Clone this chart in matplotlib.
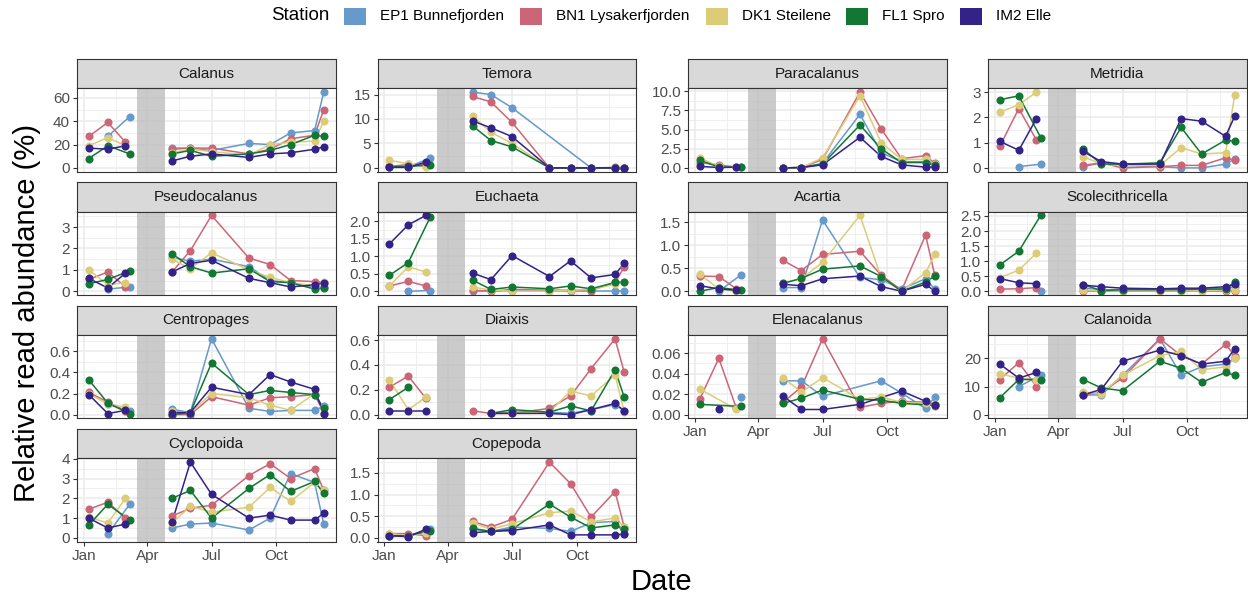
import numpy as np
import matplotlib
matplotlib.use("Agg")
import matplotlib.pyplot as plt
import matplotlib.dates as mdates
from matplotlib.patches import Rectangle
from matplotlib.ticker import FixedLocator

plt.rcParams["font.family"] = ["Liberation Sans", "DejaVu Sans"]

nan = np.nan

stations = ["EP1 Bunnefjorden", "BN1 Lysakerfjorden", "DK1 Steilene", "FL1 Spro", "IM2 Elle"]
colours = ["#6699CC", "#CC6677", "#DDCC77", "#117733", "#332288"]

# winter cruise dates per station (EP1 has no January sample)
winter_dates = [
    ["2021-01-08", "2021-02-04", "2021-03-07"],
    ["2021-01-08", "2021-02-04", "2021-03-01"],
    ["2021-01-08", "2021-02-04", "2021-03-01"],
    ["2021-01-08", "2021-02-04", "2021-03-07"],
    ["2021-01-08", "2021-02-04", "2021-03-01"],
]
summer_dates = ["2021-05-06", "2021-06-01", "2021-07-01", "2021-08-23",
                "2021-09-22", "2021-10-21", "2021-11-24", "2021-12-07"]
no_sampling = ("2021-03-17", "2021-04-26")

# rows: EP1, BN1, DK1, FL1, IM2 ; 3 winter values then 8 summer values
calanus = [
    [nan, 27, 44, 17, 17, 15, 21, 20, 30, 32, 65],
    [27, 39, 22, 16, 17, 17, 12, 16, 25, 28, 50],
    [19, 26, 19, 13, 16, 14, 11, 20, 22, 23, 40],
    [8, 19, 12, 12, 15, 10, 12, 15, 20, 28, 27],
    [17, 16, 19, 6, 10, 12, 9, 12, 13, 16, 18],
]
temora = [
    [nan, 0.2, 2.0, 15.5, 15.0, 12.3, nan, nan, 0, 0, 0],
    [0.3, 0.7, 0.6, 14.6, 13.5, 9.3, 0, 0, 0, 0.1, 0],
    [1.6, 0.8, 0.2, 10.6, 7.3, 5.0, 0, 0, 0, 0, 0],
    [0.2, 0.3, 0.6, 8.6, 5.6, 4.3, 0, 0, 0, 0, 0],
    [0.1, 0.1, 1.2, 9.6, 8.2, 6.4, 0, 0, 0, 0, 0],
]
paracalanus = [
    [nan, 0.1, 0.1, 0, 0.05, 0.6, 7.0, 2.0, 0.8, 0.8, 0.3],
    [0.7, 0.4, 0.1, 0, 0.05, 1.1, 9.9, 5.1, 1.2, 1.6, 0.6],
    [1.3, 0.2, 0.1, 0, 0.05, 1.3, 9.4, 3.3, 1.1, 1.1, 0.5],
    [1.0, 0.1, 0.1, 0, 0.05, 0.5, 5.6, 2.5, 0.7, 0.7, 0.4],
    [0.2, 0.05, 0.1, 0, 0.05, 0.4, 4.0, 1.5, 0.4, 0.1, 0.1],
]
metridia = [
    [nan, 0.05, 0.15, 0.05, 0.2, 0.1, 0.05, 0.0, 0.0, 0.15, 0.35],
    [0.85, 2.35, 1.1, 0.1, 0.2, 0.0, 0.05, 0.1, 0.1, 0.4, 0.3],
    [2.2, 2.5, 3.0, 0.45, 0.15, 0.1, 0.1, 0.8, 0.55, 0.6, 2.9],
    [2.7, 2.85, 1.2, 0.75, 0.15, 0.15, 0.2, 1.6, 0.55, 1.1, 1.05],
    [1.05, 0.7, 1.95, 0.65, 0.25, 0.15, 0.15, 1.95, 1.85, 1.25, 2.05],
]
pseudocalanus = [
    [nan, 0.1, 0.2, 1.6, 1.4, 1.5, 1.15, 0.5, 0.4, 0.15, 0.2],
    [0.55, 0.9, 0.2, 0.9, 1.9, 3.55, 1.55, 1.25, 0.5, 0.45, 0.4],
    [1.0, 0.3, 0.4, 1.5, 1.05, 1.8, 1.0, 0.65, 0.4, 0.25, 0.45],
    [0.35, 0.55, 0.95, 1.75, 1.15, 0.85, 1.05, 0.45, 0.4, 0.1, 0.15],
    [0.6, 0.15, 0.85, 0.9, 1.3, 1.45, 0.6, 0.4, 0.2, 0.3, 0.4],
]
euchaeta = [
    [nan, 0.0, 0.02, 0.02, 0.02, 0.02, 0.02, 0.02, 0.02, 0.02, 0.02],
    [0.15, 0.28, 0.15, 0.03, 0.0, 0.05, 0.03, 0.03, 0.02, 0.25, 0.7],
    [0.15, 0.7, 0.55, 0.12, 0.03, 0.0, 0.0, 0.03, 0.05, 0.2, 0.25],
    [0.45, 0.82, 2.12, 0.32, 0.05, 0.12, 0.07, 0.15, 0.07, 0.25, 0.27],
    [1.35, 1.9, 2.17, 0.52, 0.33, 1.02, 0.42, 0.87, 0.38, 0.48, 0.8],
]
acartia = [
    [nan, 0.0, 0.35, 0.08, 0.08, 1.55, 0.3, 0.25, 0.05, 0.27, 0.05],
    [0.33, 0.32, 0.05, 0.67, 0.45, 0.8, 0.87, 0.35, 0.02, 1.22, 0.35],
    [0.37, 0.05, 0.0, 0.18, 0.27, 0.63, 1.65, 0.3, 0.0, 0.4, 0.8],
    [0.0, 0.08, 0.02, 0.17, 0.28, 0.48, 0.55, 0.32, 0.0, 0.2, 0.33],
    [0.12, 0.05, 0.02, 0.15, 0.12, 0.27, 0.33, 0.1, 0.0, 0.15, 0.0],
]
scolecithricella = [
    [nan, nan, 0.0, 0.1, 0.05, 0.05, 0.05, 0.05, 0.05, 0.1, 0.15],
    [0.07, 0.08, 0.12, 0.0, 0.0, 0.0, 0.0, 0.0, 0.0, 0.0, 0.0],
    [0.45, 0.7, 1.27, 0.05, 0.02, 0.02, 0.02, 0.02, 0.02, 0.05, 0.05],
    [0.87, 1.33, 2.52, 0.22, 0.02, 0.05, 0.05, 0.05, 0.07, 0.07, 0.3],
    [0.42, 0.28, 0.25, 0.2, 0.15, 0.1, 0.08, 0.1, 0.1, 0.15, 0.23],
]
centropages = [
    [nan, 0.1, 0.03, 0.05, 0.02, 0.72, 0.06, 0.03, 0.04, 0.04, 0.08],
    [0.21, 0.12, 0.03, 0.0, 0.0, 0.17, 0.09, 0.16, 0.17, 0.19, 0.02],
    [0.2, 0.1, 0.07, 0.03, 0.02, 0.2, 0.16, 0.09, 0.04, 0.2, 0.06],
    [0.33, 0.11, 0.01, 0.0, 0.02, 0.49, 0.19, 0.23, 0.21, 0.19, 0.06],
    [0.19, 0.01, 0.04, 0.02, 0.02, 0.26, 0.19, 0.38, 0.31, 0.24, 0.01],
]
diaixis = [
    [nan, nan, nan, nan, 0.01, 0.02, 0.02, 0.01, 0.04, 0.08, 0.03],
    [0.22, 0.31, 0.13, 0.03, 0.01, 0.01, 0.05, 0.15, 0.37, 0.61, 0.34],
    [0.28, 0.04, 0.14, nan, 0.01, 0.01, 0.02, 0.19, 0.15, 0.32, 0.02],
    [0.12, 0.22, nan, nan, 0.01, 0.04, 0.02, 0.07, 0.03, 0.36, 0.14],
    [0.03, 0.03, 0.03, nan, 0.01, 0.01, 0.01, 0.0, 0.04, 0.09, 0.03],
]
elenacalanus = [
    [nan, nan, 0.017, 0.033, 0.033, 0.018, nan, 0.033, 0.021, 0.006, 0.017],
    [0.015, 0.055, 0.006, 0.012, 0.027, 0.074, 0.007, 0.011, 0.013, 0.012, 0.008],
    [0.025, nan, 0.005, 0.036, 0.022, 0.036, 0.015, 0.017, 0.012, 0.011, 0.010],
    [0.010, nan, 0.008, 0.011, 0.016, 0.024, 0.015, 0.014, 0.011, nan, 0.009],
    [nan, 0.005, nan, 0.018, 0.005, 0.005, 0.010, nan, 0.023, 0.013, 0.009],
]
calanoida = [
    [nan, 10, 14, 7, 7, 14, 27, 14, 17, 18, 20],
    [12.5, 18.5, 10, 7, 8, 13, 27, 21, 18, 25, 21],
    [14.5, 13, 12.5, 8, 7.5, 14, 21, 22.5, 16, 17, 20],
    [6, 12.5, 12.5, 12.5, 9.5, 8.5, 19, 16.5, 11.5, 15, 14],
    [18, 13, 15, 7, 9, 19, 23, 21, 18, 19, 23.5],
]
cyclopoida = [
    [nan, 0.2, 1.7, 0.5, 0.7, 0.75, 0.4, 1.0, 3.25, 2.8, 0.7],
    [1.45, 1.8, 1.0, 1.1, 1.5, 1.65, 3.15, 3.75, 3.0, 3.5, 2.4],
    [1.05, 0.75, 2.0, 0.75, 1.6, 1.3, 1.55, 2.55, 1.85, 2.8, 2.4],
    [0.65, 1.7, 0.9, 2.0, 2.4, 1.0, 2.5, 3.2, 2.35, 2.85, 2.25],
    [1.0, 0.5, 0.7, 0.8, 3.83, 2.2, 1.0, 1.15, 0.9, 0.9, 1.25],
]
copepoda = [
    [nan, 0.05, 0.2, 0.2, 0.15, 0.25, 0.22, 0.15, 0.35, 0.38, 0.08],
    [0.1, 0.1, 0.05, 0.38, 0.25, 0.43, 1.75, 1.25, 0.48, 1.07, 0.25],
    [0.1, 0.05, 0.12, 0.35, 0.2, 0.33, 0.58, 0.62, 0.37, 0.46, 0.25],
    [0.05, 0.05, 0.17, 0.22, 0.15, 0.2, 0.78, 0.48, 0.23, 0.3, 0.2],
    [0.05, 0.03, 0.2, 0.12, 0.15, 0.17, 0.3, 0.07, 0.07, 0.07, 0.09],
]

taxa = ["Calanus", "Temora", "Paracalanus", "Metridia",
        "Pseudocalanus", "Euchaeta", "Acartia", "Scolecithricella",
        "Centropages", "Diaixis", "Elenacalanus", "Calanoida",
        "Cyclopoida", "Copepoda"]
abundance = [calanus, temora, paracalanus, metridia,
             pseudocalanus, euchaeta, acartia, scolecithricella,
             centropages, diaixis, elenacalanus, calanoida,
             cyclopoida, copepoda]
y_breaks = [[0, 20, 40, 60], [0, 5, 10, 15], [0, 2.5, 5, 7.5, 10], [0, 1, 2, 3],
            [0, 1, 2, 3], [0, 0.5, 1, 1.5, 2], [0, 0.5, 1, 1.5], [0, 0.5, 1, 1.5, 2, 2.5],
            [0, 0.2, 0.4, 0.6], [0, 0.2, 0.4, 0.6], [0, 0.02, 0.04, 0.06], [0, 10, 20],
            [0, 1, 2, 3, 4], [0, 0.5, 1, 1.5]]
y_digits = [0, 0, 1, 0, 0, 1, 1, 1, 1, 1, 2, 0, 0, 1]

month_breaks = ["2021-01-01", "2021-04-01", "2021-07-01", "2021-10-01"]
month_labels = ["Jan", "Apr", "Jul", "Oct"]

W, H = 1248, 597
fig = plt.figure(figsize=(W / 100, H / 100), dpi=100)

col_left = [77, 377.5, 688, 988]
row_top = [59, 182.3, 305.7, 429]
pan_w, strip_h, pan_h = 258.5, 29.3, 83.4
bottom_panels = {10, 11, 12, 13}


def px_axes(x0, y0, w, h):
    return fig.add_axes([x0 / W, 1 - (y0 + h) / H, w / W, h / H])


def to_num(d):
    return mdates.date2num(np.array(d, dtype="datetime64[D]"))


summer_x = to_num(summer_dates)
all_x = np.concatenate([to_num(sum(winter_dates, [])), summer_x])
x_lo, x_hi = all_x.min(), all_x.max()
x_pad = 0.05 * (x_hi - x_lo)
major_x = to_num(month_breaks)
ext = np.concatenate([[to_num("2020-10-01")], major_x, [to_num("2022-01-01")]])
minor_x = (ext[:-1] + ext[1:]) / 2

for i, (name, values) in enumerate(zip(taxa, abundance)):
    r, c = divmod(i, 4)
    x0, top = col_left[c], row_top[r]

    strip = px_axes(x0, top, pan_w, strip_h)
    strip.set_facecolor("#D9D9D9")
    strip.set_xticks([])
    strip.set_yticks([])
    for s in strip.spines.values():
        s.set_color("#333333")
        s.set_linewidth(0.8)
    strip.text(0.5, 0.5, name, ha="center", va="center", fontsize=11,
               color="#1A1A1A", transform=strip.transAxes)

    ax = px_axes(x0, top + strip_h, pan_w, pan_h)
    ax.set_axisbelow(True)
    ax.axvspan(to_num(no_sampling[0]), to_num(no_sampling[1]),
               color="#BEBEBE", alpha=0.8, lw=0, zorder=1)

    vals = np.array(values, dtype=float)
    for st in range(len(stations)):
        wx = to_num(winter_dates[st])
        for xs, ys in ((wx, vals[st, :3]), (summer_x, vals[st, 3:])):
            ok = ~np.isnan(ys)
            ax.plot(xs[ok], ys[ok], color=colours[st], lw=1.1, zorder=3,
                    solid_capstyle="butt")
    for st in range(len(stations)):
        xs = np.concatenate([to_num(winter_dates[st]), summer_x])
        ys = vals[st]
        ok = ~np.isnan(ys)
        ax.plot(xs[ok], ys[ok], ls="none", marker="o", ms=5.8,
                mfc=colours[st], mec=colours[st], mew=0, zorder=4)

    # the shaded band starts at zero, so every panel reaches down to 0
    lo, hi = min(0.0, np.nanmin(vals)), np.nanmax(vals)
    pad = 0.05 * (hi - lo)
    ax.set_ylim(lo - pad, hi + pad)
    ax.set_xlim(x_lo - x_pad, x_hi + x_pad)

    yb = np.array(y_breaks[i], dtype=float)
    step = yb[1] - yb[0]
    ext_y = np.concatenate([[yb[0] - step], yb, [yb[-1] + step]])
    ax.yaxis.set_major_locator(FixedLocator(yb))
    ax.yaxis.set_minor_locator(FixedLocator((ext_y[:-1] + ext_y[1:]) / 2))
    ax.set_yticklabels([f"{v:.{y_digits[i]}f}" for v in yb])

    ax.xaxis.set_major_locator(FixedLocator(major_x))
    ax.xaxis.set_minor_locator(FixedLocator(minor_x))
    ax.set_xticklabels(month_labels)

    ax.grid(which="major", color="#EBEBEB", lw=1.1)
    ax.grid(which="minor", color="#EBEBEB", lw=0.55)
    ax.tick_params(which="minor", length=0)
    ax.tick_params(axis="y", length=3, width=0.8, color="#333333",
                   labelsize=11, labelcolor="#4D4D4D", pad=2)
    if i in bottom_panels:
        ax.tick_params(axis="x", length=3, width=0.8, color="#333333",
                       labelsize=11, labelcolor="#4D4D4D", pad=2)
    else:
        ax.tick_params(axis="x", length=0, labelbottom=False)
    for s in ax.spines.values():
        s.set_color("#333333")
        s.set_linewidth(0.8)
        s.set_zorder(5)

fig.text(661 / W, 1 - 582 / H, "Date", ha="center", va="center", fontsize=21)
fig.text(27 / W, 1 - 313 / H, "Relative read abundance (%)", ha="center",
         va="center", rotation=90, fontsize=21)

# legend across the top
legend_y = 16
fig.text(271 / W, 1 - legend_y / H, "Station", ha="left", va="center", fontsize=13.5)
key_x = [344, 520, 706, 846, 960]
for kx, lab, col in zip(key_x, stations, colours):
    fig.patches.append(Rectangle((kx / W, 1 - (legend_y + 8.5) / H), 22 / W, 17 / H,
                                 transform=fig.transFigure, facecolor=col,
                                 edgecolor="none"))
    fig.text((kx + 36) / W, 1 - legend_y / H, lab, ha="left", va="center", fontsize=11)

fig.savefig("out.png", dpi=100)
